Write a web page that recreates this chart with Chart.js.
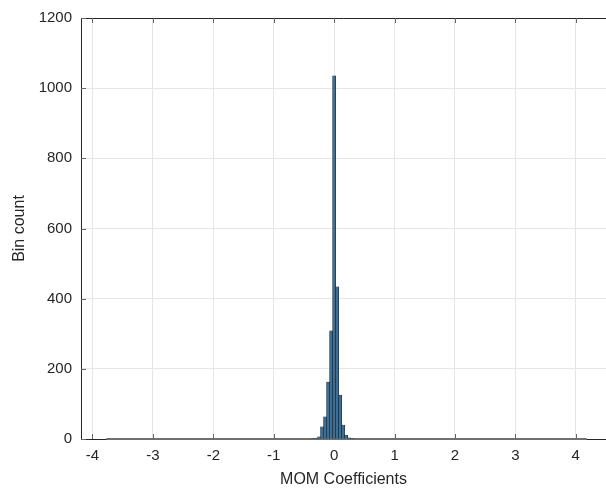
<!DOCTYPE html>
<html>
<head>
<meta charset="utf-8">
<script src="https://cdn.jsdelivr.net/npm/chart.js@4/dist/chart.umd.min.js"></script>
<style>
  html, body { margin: 0; padding: 0; background: #fff; }
  #wrap { width: 606px; height: 491px; }
</style>
</head>
<body>
<div id="wrap"><canvas id="hist"></canvas></div>
<script>
// histogram bins that have counts (bin centres, width 0.05)
var binCenters = [-0.35, -0.3, -0.25, -0.2, -0.15, -0.1, -0.05, 0, 0.05, 0.1, 0.15, 0.2, 0.25, 0.3];
var binCounts  = [1, 2, 6, 35, 63, 162, 308, 1035, 434, 125, 40, 11, 3, 1];
// range covered by the (empty) outer bins
var emptyRange = [-3.77, 4.18];
var xTicks = [-4, -3, -2, -1, 0, 1, 2, 3, 4];
var yTicks = [0, 200, 400, 600, 800, 1000, 1200];

var barData = binCenters.map(function (c, i) { return { x: c, y: binCounts[i] }; });
var zeroData = emptyRange.map(function (v) { return { x: v, y: 0 }; });

var axisColor = '#262626';
var fontName = '"Liberation Sans", Arial, sans-serif';

// box on top + inward tick marks, like matlab
var boxTicks = {
  id: 'boxTicks',
  afterDraw: function (chart) {
    var ctx = chart.ctx, a = chart.chartArea;
    var xs = chart.scales.x, ys = chart.scales.y;
    ctx.save();
    ctx.strokeStyle = axisColor;
    ctx.lineWidth = 1;
    ctx.beginPath();
    ctx.moveTo(a.left, a.top + 0.5);
    ctx.lineTo(a.right, a.top + 0.5);
    ctx.stroke();
    ctx.strokeStyle = '#666';
    ctx.beginPath();
    xTicks.forEach(function (t) {
      var px = Math.round(xs.getPixelForValue(t)) + 0.5;
      ctx.moveTo(px, a.bottom);
      ctx.lineTo(px, a.bottom - 5);
      ctx.moveTo(px, a.top);
      ctx.lineTo(px, a.top + 5);
    });
    yTicks.forEach(function (t) {
      var py = Math.round(ys.getPixelForValue(t)) + 0.5;
      ctx.moveTo(a.left, py);
      ctx.lineTo(a.left + 5, py);
    });
    ctx.stroke();
    ctx.restore();
  }
};

new Chart(document.getElementById('hist'), {
  type: 'bar',
  data: {
    datasets: [{
      label: 'counts',
      data: barData,
      backgroundColor: '#3a6f98',
      borderColor: '#1a1a1a',
      borderWidth: 0.5,
      barPercentage: 1,
      categoryPercentage: 1
    }, {
      type: 'line',
      label: 'empty bins',
      data: zeroData,
      borderColor: '#707070',
      borderWidth: 2,
      pointRadius: 0,
      clip: false
    }]
  },
  options: {
    responsive: true,
    maintainAspectRatio: false,
    animation: false,
    layout: { padding: { top: 15, right: 0, left: 0, bottom: 0 } },
    plugins: { legend: { display: false }, tooltip: { enabled: false } },
    scales: {
      x: {
        type: 'linear',
        min: -4.19,
        max: 4.5,
        offset: false,
        afterFit: function (s) { s.height = 52; },
        afterBuildTicks: function (s) { s.ticks = xTicks.map(function (v) { return { value: v }; }); },
        grid: { color: '#e6e6e6', drawTicks: false, offset: false },
        border: { display: true, color: axisColor },
        ticks: { padding: 8, color: axisColor, font: { family: fontName, size: 15 }, maxRotation: 0 },
        title: { display: true, text: 'MOM Coefficients', color: axisColor, font: { family: fontName, size: 16 }, padding: { top: 0, bottom: 2 } }
      },
      y: {
        min: 0,
        max: 1200,
        afterFit: function (s) { s.width = 81; },
        afterBuildTicks: function (s) { s.ticks = yTicks.map(function (v) { return { value: v }; }); },
        grid: { color: '#e6e6e6', drawTicks: false },
        border: { display: true, color: axisColor },
        ticks: {
          padding: 9, color: axisColor, font: { family: fontName, size: 15 },
          callback: function (v) { return String(v); }
        },
        title: { display: true, text: 'Bin count', color: axisColor, font: { family: fontName, size: 16 }, padding: { top: 10, bottom: 0 } }
      }
    }
  },
  plugins: [boxTicks]
});
</script>
</body>
</html>
